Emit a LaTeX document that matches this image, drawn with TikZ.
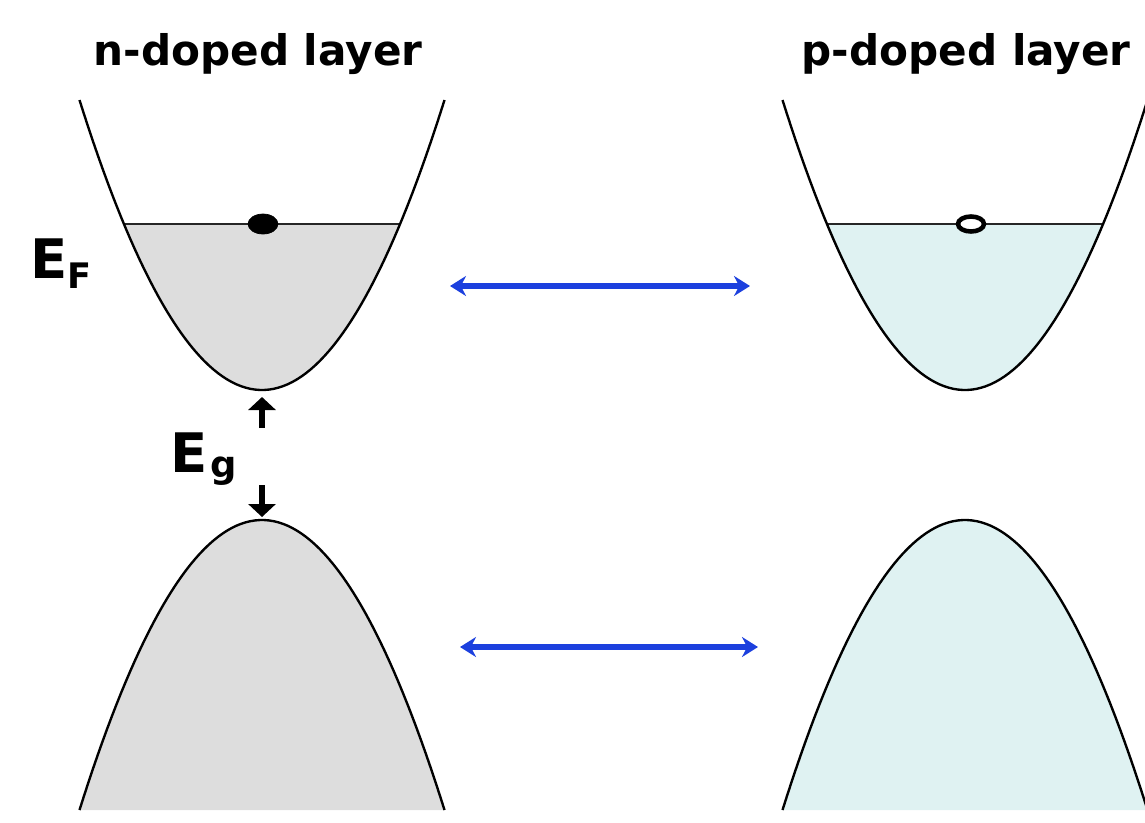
\documentclass[tikz,border=0pt]{standalone}
\usepackage{fontspec}
\setmainfont{DejaVu Sans}
\definecolor{bandgray}{RGB}{221,221,221}
\definecolor{bandcyan}{RGB}{223,242,242}
\definecolor{arrowblue}{RGB}{28,64,222}
\usetikzlibrary{arrows.meta,shapes.geometric}

\begin{document}
\begin{tikzpicture}[x=0.02cm,y=-0.02cm,
  band/.style={black,line width=1.35pt},
  fermi/.style={black!85,line width=1.2pt},
  title/.style={font=\fontsize{24}{24}\selectfont\bfseries,inner sep=0,anchor=base},
  label/.style={font=\fontsize{31}{31}\selectfont\bfseries,inner sep=0,anchor=base west},
  carrier/.style={ellipse,draw=black,inner sep=0},
  swap/.style={{Stealth[length=0.32cm,width=0.4cm]}-{Stealth[length=0.32cm,width=0.4cm]},arrowblue,line width=2.9pt},
  gap/.style={-{Triangle[length=0.26cm,width=0.54cm]},black,line width=3.4pt}]
  \useasboundingbox (0,0) rectangle (1145,822);
  % Titles
  \node[title] (ntitle) at (258,65) {n-doped layer};
  \node[title] (ptitle) at (966,65) {p-doped layer};
  % n-doped layer: filled parts
  \fill[bandgray] plot[domain=-138:138,samples=60] ({262+\x},{390-0.8707*(\x/10)*(\x/10)}) -- cycle;
  \fill[bandgray] plot[domain=-182.5:182.5,samples=60] ({262+\x},{520+0.8707*(\x/10)*(\x/10)}) -- cycle;
  % p-doped layer: filled parts
  \fill[bandcyan] plot[domain=-138:138,samples=60] ({965+\x},{390-0.8707*(\x/10)*(\x/10)}) -- cycle;
  \fill[bandcyan] plot[domain=-182.5:182.5,samples=60] ({965+\x},{520+0.8707*(\x/10)*(\x/10)}) -- cycle;
  % Fermi levels
  \draw[fermi] (124,224) -- (400,224);
  \draw[fermi] (827,224) -- (1103,224);
  % Bands
  \draw[band] plot[domain=-182.5:182.5,samples=80] ({262+\x},{390-0.8707*(\x/10)*(\x/10)});
  \draw[band] plot[domain=-182.5:182.5,samples=80] ({262+\x},{520+0.8707*(\x/10)*(\x/10)});
  \draw[band] plot[domain=-182.5:182.5,samples=80] ({965+\x},{390-0.8707*(\x/10)*(\x/10)});
  \draw[band] plot[domain=-182.5:182.5,samples=80] ({965+\x},{520+0.8707*(\x/10)*(\x/10)});
  % Electron and hole
  \node[carrier,fill=black,minimum width=0.6cm,minimum height=0.4cm] (elec) at (263,224) {};
  \node[carrier,fill=white,line width=2.6pt,minimum width=0.52cm,minimum height=0.3cm] (hole) at (971,224) {};
  % Labels
  \node[label] (ef) at (30,278) {E\raisebox{-0.2cm}{\fontsize{20}{20}\selectfont F}};
  \node[label] (eg) at (170,472) {E\kern0.05cm\raisebox{-0.1cm}{\fontsize{21}{21}\selectfont g}};
  % Gap arrows
  \coordinate (cbmin) at (262,397);
  \coordinate (vbmax) at (262,517);
  \coordinate (upstart) at (262,428);
  \coordinate (downstart) at (262,485);
  \draw[gap] (upstart) -- (cbmin);
  \draw[gap] (downstart) -- (vbmax);
  % Exchange arrows
  \coordinate (ctop1) at (450,286);
  \coordinate (ctop2) at (750,286);
  \coordinate (cbot1) at (460,647);
  \coordinate (cbot2) at (758,647);
  \draw[swap] (ctop1) -- (ctop2);
  \draw[swap] (cbot1) -- (cbot2);
\end{tikzpicture}
\end{document}
